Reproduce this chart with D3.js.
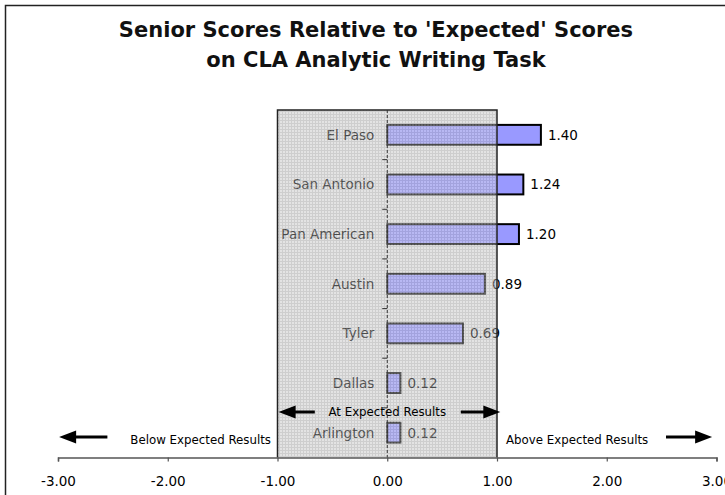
<!DOCTYPE html>
<html>
<head>
<meta charset="utf-8">
<script src="https://cdn.jsdelivr.net/npm/d3@7"></script>
<style>
  body { margin: 0; background: #fff; }
  svg text { font-family: "DejaVu Sans", Tahoma, sans-serif; }
</style>
</head>
<body>
<div id="chart"></div>
<script>
// chart data
const campuses = ["El Paso", "San Antonio", "Pan American", "Austin", "Tyler", "Dallas", "Arlington"];
const scores = [1.40, 1.24, 1.20, 0.89, 0.69, 0.12, 0.12];
const xTicks = [-3, -2, -1, 0, 1, 2, 3];
const titleLines = ["Senior Scores Relative to 'Expected' Scores", "on CLA Analytic Writing Task"];

const width = 725, height = 495;

const svg = d3.select("#chart").append("svg")
    .attr("width", width)
    .attr("height", height);

// outer chart frame (runs off the right and bottom edges)
svg.append("rect")
    .attr("x", 5.5).attr("y", 5.5)
    .attr("width", 760).attr("height", 520)
    .attr("fill", "#fff")
    .attr("stroke", "#222")
    .attr("stroke-width", 1.5);

// title
svg.append("g")
    .selectAll("text")
    .data(titleLines)
    .join("text")
    .attr("x", 376)
    .attr("y", (d, i) => 37 + i * 30)
    .attr("text-anchor", "middle")
    .attr("font-size", 21)
    .attr("font-weight", "bold")
    .attr("fill", "#111")
    .text(d => d);

// scales
const x = d3.scaleLinear().domain([-3, 3]).range([58, 716.5]);
const y = d3.scaleBand().domain(campuses).range([110, 457.5])
    .paddingInner(0.6).paddingOuter(0.3);

const plotTop = 110, plotBottom = 457.5;
const fmt = v => d3.format(".2f")(v).replace("\u2212", "-");

// grid pattern for the "expected" band
const defs = svg.append("defs");
const pat = defs.append("pattern")
    .attr("id", "grid")
    .attr("patternUnits", "userSpaceOnUse")
    .attr("width", 3).attr("height", 3);
pat.append("rect").attr("width", 3).attr("height", 3).attr("fill", "#e2e2e2");
pat.append("path").attr("d", "M0,0.5H3M0.5,0V3")
    .attr("stroke", "#b0b0b0").attr("stroke-width", 1);

// grey band underneath
svg.append("rect")
    .attr("x", x(-1)).attr("y", plotTop)
    .attr("width", x(1) - x(-1)).attr("height", plotBottom - plotTop)
    .attr("fill", "#e4e4e4");

// bars
svg.append("g")
    .selectAll("rect")
    .data(scores)
    .join("rect")
    .attr("x", x(0))
    .attr("y", (d, i) => y(campuses[i]))
    .attr("width", d => x(d) - x(0))
    .attr("height", y.bandwidth())
    .attr("fill", "#9999ff")
    .attr("stroke", "#000")
    .attr("stroke-width", 2);

// value labels
svg.append("g")
    .selectAll("text")
    .data(scores)
    .join("text")
    .attr("x", d => x(d) + 7)
    .attr("y", (d, i) => y(campuses[i]) + y.bandwidth() / 2)
    .attr("dy", "0.36em")
    .attr("font-size", 13.5)
    .attr("fill", "#000")
    .text(fmt);

// category labels
svg.append("g")
    .selectAll("text")
    .data(campuses)
    .join("text")
    .attr("x", x(0) - 13)
    .attr("y", d => y(d) + y.bandwidth() / 2)
    .attr("dy", "0.36em")
    .attr("text-anchor", "end")
    .attr("font-size", 13.5)
    .attr("fill", "#000")
    .text(d => d);

// translucent grid overlay
svg.append("rect")
    .attr("x", x(-1)).attr("y", plotTop)
    .attr("width", x(1) - x(-1)).attr("height", plotBottom - plotTop)
    .attr("fill", "url(#grid)")
    .attr("opacity", 0.42);

// band border
svg.append("path")
    .attr("d", `M${x(-1)},${plotBottom}V${plotTop}H${x(1)}V${plotBottom}`)
    .attr("fill", "none")
    .attr("stroke", "#222")
    .attr("stroke-width", 1.5);

// dashed zero line
svg.append("line")
    .attr("x1", x(0)).attr("x2", x(0))
    .attr("y1", plotTop).attr("y2", plotBottom)
    .attr("stroke", "#333")
    .attr("stroke-dasharray", "3,2");

// category separators on the zero line
const step = y.step();
svg.append("g")
    .selectAll("line")
    .data(campuses.slice(1))
    .join("line")
    .attr("x1", x(0) - 5).attr("x2", x(0))
    .attr("y1", d => y(d) - step * y.paddingInner() / 2)
    .attr("y2", d => y(d) - step * y.paddingInner() / 2)
    .attr("stroke", "#333");

// x axis
const xAxis = svg.append("g")
    .attr("transform", `translate(0,${plotBottom})`)
    .call(d3.axisBottom(x).tickValues(xTicks).tickFormat(fmt)
        .tickSize(4).tickPadding(15));
xAxis.select(".domain").attr("stroke", "#555").attr("stroke-width", 1.5);
xAxis.selectAll(".tick line").attr("stroke", "#555").attr("stroke-width", 1.2);
xAxis.selectAll(".tick text")
    .attr("font-size", 13.5)
    .attr("fill", "#000")
    .attr("font-family", "DejaVu Sans, sans-serif");

// arrows and annotations
function arrow(x1, x2, yy) {
    const dir = Math.sign(x2 - x1);
    const headLen = 17, headHalf = 6.5;
    svg.append("line")
        .attr("x1", x1).attr("x2", x2 - dir * headLen + dir)
        .attr("y1", yy).attr("y2", yy)
        .attr("stroke", "#000").attr("stroke-width", 3);
    svg.append("path")
        .attr("d", `M${x2},${yy}L${x2 - dir * headLen},${yy - headHalf}L${x2 - dir * headLen},${yy + headHalf}Z`)
        .attr("fill", "#000");
}

arrow(x(-2.55), x(-2.99), 437);
arrow(x(2.54), x(2.96), 437);
arrow(x(-0.66), x(-0.99), 412);
arrow(x(0.67), x(1.03), 412);

const notes = [
    {t: "Below Expected Results", v: -1.70, yy: 444},
    {t: "Above Expected Results", v: 1.73, yy: 444},
    {t: "At Expected Results", v: 0, yy: 416}
];
svg.append("g")
    .selectAll("text")
    .data(notes)
    .join("text")
    .attr("x", d => x(d.v))
    .attr("y", d => d.yy)
    .attr("text-anchor", "middle")
    .attr("font-size", 11.8)
    .attr("fill", "#000")
    .text(d => d.t);
</script>
</body>
</html>
